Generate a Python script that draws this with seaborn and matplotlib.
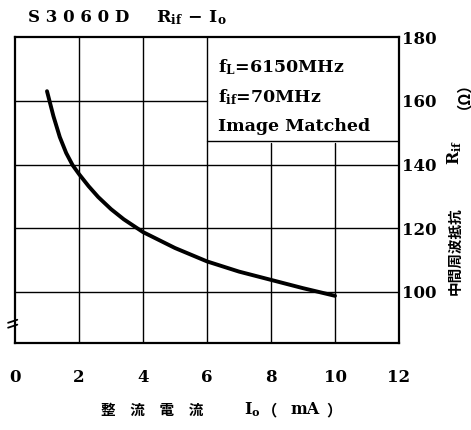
import numpy as np
import pandas as pd
import matplotlib
matplotlib.use("Agg")
import matplotlib.pyplot as plt
import seaborn as sns

# 曲線データ
current_ma = [1.0, 1.2, 1.4, 1.6, 1.8, 2.0, 2.3, 2.6, 3.0, 3.4, 4.0, 5.0, 6.0, 7.0, 8.0, 9.0, 10.0]
r_if = [163.0, 155.2, 148.6, 143.6, 139.8, 137.0, 133.2, 129.8, 126.0, 122.8, 118.8,
        113.8, 109.6, 106.4, 103.8, 101.2, 98.8]

x_ticks = [0, 2, 4, 6, 8, 10, 12]
y_ticks = [100, 120, 140, 160, 180]

title_head = "S 3 0 6 0 D"
title_tail = r"R$_{\rm if}$$\,-\,$I$_{\rm o}$"
legend_lines = [r"f$_{\rm L}$=6150MHz", r"f$_{\rm if}$=70MHz", "Image Matched"]
legend_y = [170.6, 161.2, 151.8]

df = pd.DataFrame({"I0": current_ma, "Rif": r_if})

sns.set_theme(style="white")
latin = ["DejaVu Serif", "Noto Sans CJK JP"]
cjk = ["Noto Sans CJK JP", "DejaVu Serif"]
plt.rcParams["font.family"] = latin
plt.rcParams["font.weight"] = "bold"
plt.rcParams["text.color"] = "black"
plt.rcParams["xtick.color"] = "black"
plt.rcParams["ytick.color"] = "black"
plt.rcParams["mathtext.fontset"] = "custom"
plt.rcParams["mathtext.rm"] = "DejaVu Serif:bold"
plt.rcParams["mathtext.it"] = "DejaVu Serif:bold"
plt.rcParams["mathtext.bf"] = "DejaVu Serif:bold"

fig = plt.figure(figsize=(4.71, 4.30), dpi=100)
ax = fig.add_axes([15 / 471, 1 - 343 / 430, 384 / 471, 306 / 430])

ax.set_xlim(0, 12)
ax.set_ylim(84, 180)

# グリッド (凡例ボックスの部分は線なし)
box_bottom = 147.5
for xv in [2, 4, 6]:
    ax.plot([xv, xv], [84, 180], color="black", lw=1.0)
for xv in [8, 10]:
    ax.plot([xv, xv], [84, box_bottom - 0.8], color="black", lw=1.0)
ax.plot([0, 6], [160, 160], color="black", lw=1.0)
for yv in [100, 120, 140]:
    ax.plot([0, 12], [yv, yv], color="black", lw=1.0)
ax.plot([6, 12], [box_bottom, box_bottom], color="black", lw=1.0)

sns.lineplot(data=df, x="I0", y="Rif", ax=ax, color="black", lw=2.8, sort=True,
             solid_capstyle="round", solid_joinstyle="round")

for sp in ax.spines.values():
    sp.set_color("black")
    sp.set_linewidth(1.6)

ax.set_xticks(x_ticks)
ax.set_xticklabels([str(v) for v in x_ticks], fontsize=12, fontweight="bold")
ax.tick_params(axis="x", length=0, pad=19)
ax.yaxis.tick_right()
ax.set_yticks(y_ticks)
ax.set_yticklabels([str(v) for v in y_ticks], fontsize=12, fontweight="bold")
ax.tick_params(axis="y", length=0, pad=2)
ax.set_xlabel("")
ax.set_ylabel("")

# 凡例テキスト
for t, yv in zip(legend_lines, legend_y):
    ax.text(6.33, yv, t, fontsize=12.5, fontweight="bold", va="center", ha="left")

# 軸の省略記号
for dy in [0.0, 0.016]:
    ax.plot([-0.018, 0.006], [0.05 + dy, 0.06 + dy], color="black", lw=1.3,
            transform=ax.transAxes, clip_on=False)

fig.text(28 / 471, 1 - 18 / 430, title_head, fontsize=12, fontweight="bold",
         va="center", ha="left")
fig.text(156 / 471, 1 - 18 / 430, title_tail, fontsize=12.5, fontweight="bold",
         va="center", ha="left")

# x軸ラベル
fig.text(152 / 471, 1 - 410 / 430, "整　流　電　流", family=cjk, fontsize=10.5,
         fontweight="bold", va="center", ha="center")
fig.text(244 / 471, 1 - 410 / 430, r"I$_{\rm o}$", fontsize=11.5, fontweight="bold",
         va="center", ha="left")
fig.text(262 / 471, 1 - 410 / 430, "（", family=cjk, fontsize=11,
         fontweight="bold", va="center", ha="left")
fig.text(305 / 471, 1 - 410 / 430, "mA", fontsize=11.5,
         fontweight="bold", va="center", ha="center")
fig.text(326 / 471, 1 - 410 / 430, "）", family=cjk, fontsize=11,
         fontweight="bold", va="center", ha="left")

# y軸ラベル (右側)
fig.text(455 / 471, 1 - 251 / 430, "中間周波抵抗", family=cjk, fontsize=10.5,
         fontweight="bold", va="center", ha="center", rotation=90)
fig.text(455 / 471, 1 - 152 / 430, r"R$_{\rm if}$", fontsize=11.5, fontweight="bold",
         va="center", ha="center", rotation=90)
fig.text(455 / 471, 1 - 88 / 430, "（Ω）", family=cjk, fontsize=11,
         fontweight="bold", va="center", ha="center", rotation=90)

fig.savefig("out.png", dpi=100)
